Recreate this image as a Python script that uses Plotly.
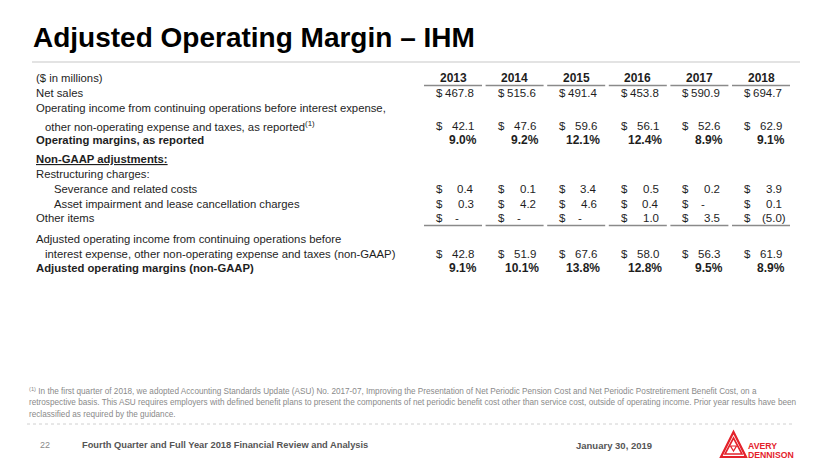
import plotly.graph_objects as go

years = [2013, 2014, 2015, 2016, 2017, 2018]
net_sales = [467.8, 515.6, 491.4, 453.8, 590.9, 694.7]
op_income = [42.1, 47.6, 59.6, 56.1, 52.6, 62.9]
op_margin = [9.0, 9.2, 12.1, 12.4, 8.9, 9.1]
severance = [0.4, 0.1, 3.4, 0.5, 0.2, 3.9]
asset_impairment = [0.3, 4.2, 4.6, 0.4, None, 0.1]
other_items = [None, None, None, 1.0, 3.5, -5.0]
adj_op_income = [42.8, 51.9, 67.6, 58.0, 56.3, 61.9]
adj_margin = [9.1, 10.1, 13.8, 12.8, 9.5, 8.9]

FONT = "Liberation Sans, Arial, sans-serif"
TXT = "#1e1e1e"

# row labels: (text, y, indent)
labels = [
    ("($ in millions)", 78, 0),
    ("Net sales", 93, 0),
    ("Operating income from continuing operations before interest expense,", 108, 0),
    ("other non-operating expense and taxes, as reported<sup>(1)</sup>", 126, 9),
    ("<b>Operating margins, as reported</b>", 140, 0),
    ("<b><u>Non-GAAP adjustments:</u></b>", 159, 0),
    ("Restructuring charges:", 174, 0),
    ("Severance and related costs", 189, 18),
    ("Asset impairment and lease cancellation charges", 204, 18),
    ("Other items", 218, 0),
    ("Adjusted operating income from continuing operations before", 239, 0),
    ("interest expense, other non-operating expense and taxes (non-GAAP)", 254, 9),
    ("<b>Adjusted operating margins (non-GAAP)</b>", 268, 0),
]

dollar_rows = [(net_sales, 93), (op_income, 126), (severance, 189),
               (asset_impairment, 204), (other_items, 218), (adj_op_income, 254)]
pct_rows = [(op_margin, 140), (adj_margin, 268)]

col_center = [453, 514.6, 576.2, 637.8, 699.4, 761]


def fmt(v):
    if v < 0:
        return f"({abs(v):.1f})"
    return f"{v:.1f}"


fig = go.Figure()
fig.add_trace(go.Scatter(x=[10, 820], y=[10, 460], mode="markers",
                         marker=dict(opacity=0), hoverinfo="skip", showlegend=False))

ann = []
shapes = []

# title
ann.append(dict(x=31, y=37, text="<b>Adjusted Operating Margin – IHM</b>", xanchor="left",
                yanchor="middle", font=dict(size=28, color="#000", family=FONT)))
shapes.append(dict(type="line", x0=32, x1=800, y0=62, y1=62, line=dict(color="#e3e3e3", width=2)))

for text, y, ind in labels:
    ann.append(dict(x=34 + ind, y=y, text=text, xanchor="left", yanchor="middle",
                    font=dict(size=11.3, color=TXT, family=FONT)))

for i, yr in enumerate(years):
    c = col_center[i]
    ann.append(dict(x=c, y=78, text=f"<b>{yr}</b>", xanchor="center", yanchor="middle",
                    font=dict(size=12, color=TXT, family=FONT)))
    shapes.append(dict(type="line", x0=c - 29, x1=c + 29, y0=85.5, y1=85.5,
                       line=dict(color="#8a8a8a", width=1.5)))
    shapes.append(dict(type="line", x0=c - 29, x1=c + 29, y0=225.5, y1=225.5,
                       line=dict(color="#8a8a8a", width=1.5)))
    for vals, y in dollar_rows:
        v = vals[i]
        ann.append(dict(x=c - 19, y=y, text="$", xanchor="left", yanchor="middle",
                        font=dict(size=11.5, color=TXT, family=FONT)))
        if v is None:
            ann.append(dict(x=c + 4, y=y, text="-", xanchor="center", yanchor="middle",
                            font=dict(size=11.5, color=TXT, family=FONT)))
        else:
            ann.append(dict(x=c + 23 + (4 if v < 0 else 0), y=y, text=fmt(v), xanchor="right",
                            yanchor="middle", font=dict(size=11.5, color=TXT, family=FONT)))
    for vals, y in pct_rows:
        ann.append(dict(x=c + 26, y=y, text=f"<b>{vals[i]:.1f}%</b>", xanchor="right",
                        yanchor="middle", font=dict(size=12, color=TXT, family=FONT)))

# footnote
foot = [
    "<sup>(1)</sup> In the first quarter of 2018, we adopted Accounting Standards Update (ASU) No. 2017-07, Improving the Presentation of Net Periodic Pension Cost and Net Periodic Postretirement Benefit Cost, on a",
    "retrospective basis. This ASU requires employers with defined benefit plans to present the components of net periodic benefit cost other than service cost, outside of operating income. Prior year results have been",
    "reclassified as required by the guidance.",
]
for k, t in enumerate(foot):
    ann.append(dict(x=27, y=391 + 11.5 * k, text=t, xanchor="left", yanchor="middle",
                    font=dict(size=8.2, color="#8a8a8a", family=FONT)))
shapes.append(dict(type="line", x0=27, x1=793, y0=424, y1=424,
                   line=dict(color="#d0d0d0", width=1, dash="dot")))

# footer
ann.append(dict(x=38, y=445, text="22", xanchor="left", yanchor="middle",
                font=dict(size=9, color="#8a8a8a", family=FONT)))
ann.append(dict(x=80, y=445, text="<b>Fourth Quarter and Full Year 2018 Financial Review and Analysis</b>",
                xanchor="left", yanchor="middle", font=dict(size=9.3, color="#555", family=FONT)))
ann.append(dict(x=574, y=445, text="<b>January 30, 2019</b>", xanchor="left", yanchor="middle",
                font=dict(size=9.5, color="#555", family=FONT)))

# logo
RED = "#e4222b"
shapes.append(dict(type="path", path="M 733.5 432 L 746 457 L 721 457 Z",
                   line=dict(color=RED, width=2.2)))
shapes.append(dict(type="path", path="M 733.5 438 L 742 454 L 725 454 Z",
                   line=dict(color=RED, width=1.6)))
shapes.append(dict(type="path", path="M 730.5 446 L 736.5 446 L 733.5 451 Z",
                   line=dict(color=RED, width=1.2)))
ann.append(dict(x=746, y=446, text="<b>AVERY</b>", xanchor="left", yanchor="middle",
                font=dict(size=8.7, color=RED, family=FONT)))
ann.append(dict(x=746, y=454.5, text="<b>DENNISON</b>", xanchor="left", yanchor="middle",
                font=dict(size=8.7, color=RED, family=FONT)))

for a in ann:
    a.update(xref="x", yref="y", showarrow=False)
for s in shapes:
    s.update(xref="x", yref="y", layer="above")

# page body has an 8px margin, so the axes are offset to keep page pixels aligned
fig.update_layout(
    width=830, height=467, margin=dict(l=0, r=0, t=0, b=0),
    paper_bgcolor="white", plot_bgcolor="white",
    xaxis=dict(range=[8, 838], visible=False, fixedrange=True),
    yaxis=dict(range=[475, 8], visible=False, fixedrange=True),
    annotations=ann, shapes=shapes, showlegend=False,
)
fig.write_html("out.html", config={"displayModeBar": False})
